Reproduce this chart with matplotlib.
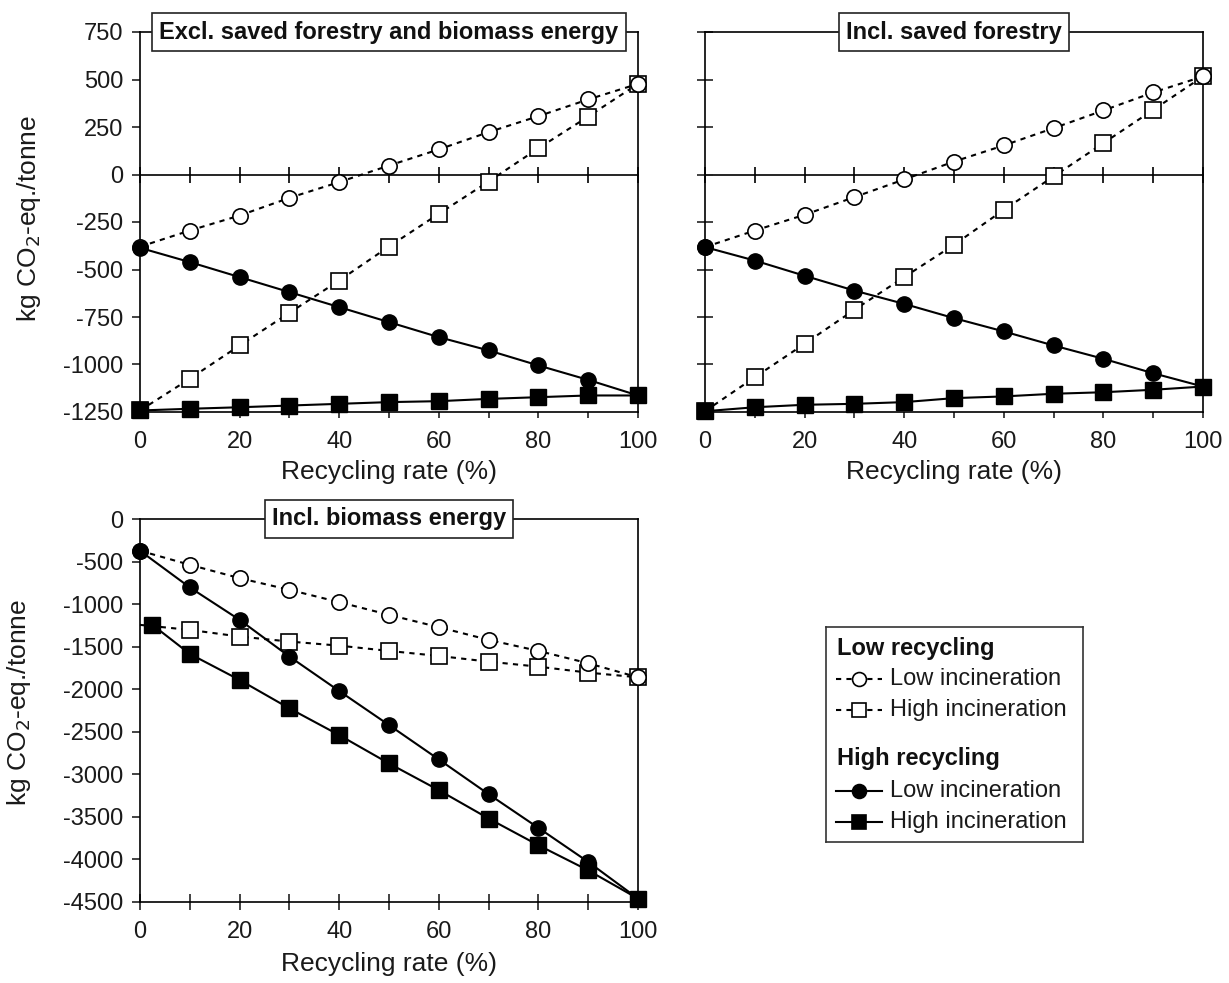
import matplotlib
matplotlib.use("Agg")
import matplotlib.pyplot as plt

plt.rcParams['font.family'] = ['Liberation Sans', 'DejaVu Sans']
plt.rcParams['axes.unicode_minus'] = False

x = [0, 10, 20, 30, 40, 50, 60, 70, 80, 90, 100]

# Panel 1: Excl. saved forestry and biomass energy
ex_lr_li = [-380, -295, -216, -123, -40, 47, 132, 223, 307, 395, 477]
ex_lr_hi = [-1242, -1075, -900, -728, -558, -379, -207, -37, 138, 305, 477]
ex_hr_li = [-386, -461, -540, -619, -698, -777, -856, -926, -1005, -1081, -1163]
ex_hr_hi = [-1242, -1233, -1225, -1216, -1207, -1198, -1193, -1181, -1172, -1163, -1163]

# Panel 2: Incl. saved forestry
sf_lr_li = [-382, -295, -212, -119, -26, 68, 153, 244, 337, 432, 516]
sf_lr_hi = [-1246, -1067, -891, -712, -540, -370, -186, -10, 165, 340, 516]
sf_hr_li = [-382, -453, -533, -611, -681, -756, -826, -900, -970, -1046, -1116]
sf_hr_hi = [-1246, -1225, -1212, -1207, -1198, -1177, -1168, -1154, -1146, -1133, -1116]

# Panel 3: Incl. biomass energy
bio_x_hh = [2.5, 10, 20, 30, 40, 50, 60, 70, 80, 90, 100]
bio_lr_li = [-373, -538, -695, -832, -977, -1126, -1271, -1420, -1550, -1695, -1860]
bio_lr_hi = [-1244, -1303, -1381, -1440, -1488, -1550, -1609, -1676, -1735, -1805, -1860]
bio_hr_li = [-373, -804, -1185, -1616, -2021, -2421, -2825, -3233, -3629, -4029, -4460]
bio_hr_hi = [-1244, -1585, -1891, -2225, -2539, -2872, -3186, -3519, -3833, -4128, -4460]

titles = ["Excl. saved forestry and biomass energy", "Incl. saved forestry", "Incl. biomass energy"]
xticks = [0, 20, 40, 60, 80, 100]
top_yticks = [750, 500, 250, 0, -250, -500, -750, -1000, -1250]
bot_yticks = [0, -500, -1000, -1500, -2000, -2500, -3000, -3500, -4000, -4500]
ylabel = "kg CO$_2$-eq./tonne"
xlabel = "Recycling rate (%)"

W, H = 1229, 983
fig = plt.figure(figsize=(W / 100, H / 100), dpi=100)

def rect(l, t, r, b):
    return [l / W, 1 - b / H, (r - l) / W, (b - t) / H]

ax1 = fig.add_axes(rect(140, 32, 638, 412))
ax2 = fig.add_axes(rect(705, 32, 1203, 412))
ax3 = fig.add_axes(rect(140, 519, 638, 902))

MS = 11
LW = 1.5
dot = (0, (2.5, 2.5))
TXT = '#1a1a1a'

def draw(ax, xs_hh, a, b, c, d, skip_first_open_sq=False):
    me = slice(1, None) if skip_first_open_sq else None
    ax.plot(x, b, linestyle=dot, color='black', lw=LW, marker='s', ms=MS, mfc='white', mec='black',
            mew=1.2, markevery=me, clip_on=False, zorder=3)
    ax.plot(x, a, linestyle=dot, color='black', lw=LW, marker='o', ms=MS, mfc='white', mec='black',
            mew=1.2, clip_on=False, zorder=3)
    ax.plot(xs_hh, d, linestyle='-', color='black', lw=LW, marker='s', ms=MS, mfc='black', mec='black',
            clip_on=False, zorder=4)
    ax.plot(x, c, linestyle='-', color='black', lw=LW, marker='o', ms=MS, mfc='black', mec='black',
            clip_on=False, zorder=4)

draw(ax1, x, ex_lr_li, ex_lr_hi, ex_hr_li, ex_hr_hi)
draw(ax2, x, sf_lr_li, sf_lr_hi, sf_hr_li, sf_hr_hi)
draw(ax3, bio_x_hh, bio_lr_li, bio_lr_hi, bio_hr_li, bio_hr_hi, skip_first_open_sq=True)

TICK_FS = 17
LAB_FS = 19

for i, ax in enumerate([ax1, ax2, ax3]):
    ax.set_xlim(0, 100)
    ax.set_xticks(xticks)
    ax.set_xticks(x, minor=True)
    for s in ax.spines.values():
        s.set_linewidth(1.2)
    ax.tick_params(axis='both', which='both', labelsize=TICK_FS, width=1.2, colors='#222222')
    ax.tick_params(axis='both', labelcolor=TXT)
    ax.set_xlabel(xlabel, fontsize=LAB_FS, color=TXT)
    ax.set_ylabel(ylabel, fontsize=LAB_FS, color=TXT)
    ax.text(0.5, 1.0, titles[i], transform=ax.transAxes, ha='center', va='center',
            fontsize=17, fontweight='bold', color='#111111',
            bbox=dict(boxstyle='square,pad=0.3', fc='white', ec='#222222', lw=1.2), zorder=10)

for ax in [ax1, ax2]:
    ax.set_ylim(-1250, 750)
    ax.set_yticks(top_yticks)
    ax.tick_params(axis='x', which='both', direction='out', length=4.5, pad=9)
    sec = ax.secondary_xaxis(0, transform=ax.transData)
    sec.set_xticks(x)
    sec.tick_params(axis='x', direction='inout', length=12, width=1.2, labelbottom=False, labeltop=False)
    sec.spines['bottom'].set_linewidth(1.2)
    sec.spines['top'].set_linewidth(1.2)
    ax.xaxis.set_label_coords(0.5, -0.125)

ax1.tick_params(axis='y', direction='out', length=6, pad=6)
ax1.yaxis.set_label_coords(-0.195, 0.51)
ax2.tick_params(axis='y', direction='inout', length=12, labelleft=False)
ax2.set_ylabel("")

ax3.set_ylim(-4500, 0)
ax3.set_yticks(bot_yticks)
ax3.tick_params(axis='y', direction='out', length=6, pad=6)
ax3.tick_params(axis='x', which='both', direction='inout', length=12, pad=8)
ax3.yaxis.set_label_coords(-0.215, 0.52)
ax3.xaxis.set_label_coords(0.5, -0.13)

# Legend (manual box)
lg = fig.add_axes(rect(826, 627, 1083, 842))
lg.set_xlim(0, 257)
lg.set_ylim(215, 0)
lg.set_xticks([])
lg.set_yticks([])
for s in lg.spines.values():
    s.set_linewidth(1.2)
    s.set_color('#333333')
entries = [
    ("Low recycling", None),
    ("Low incineration", dict(ls=dot, marker='o', mfc='white')),
    ("High incineration", dict(ls=dot, marker='s', mfc='white')),
    ("High recycling", None),
    ("Low incineration", dict(ls='-', marker='o', mfc='black')),
    ("High incineration", dict(ls='-', marker='s', mfc='black')),
]
ys = [21, 52, 83, 132, 164, 195]
for (label, st), yy in zip(entries, ys):
    if st is None:
        lg.text(11, yy, label, fontsize=17, fontweight='bold', va='center', ha='left', color='#111111')
    else:
        lg.plot([10, 56], [yy, yy], color='black', lw=LW, linestyle=st['ls'])
        lg.plot([33], [yy], marker=st['marker'], ms=MS - 1, mfc=st['mfc'], mec='black', mew=1.2,
                color='black', ls='none')
        lg.text(64, yy, label, fontsize=17, va='center', ha='left', color=TXT)

fig.savefig("out.png", dpi=100)
